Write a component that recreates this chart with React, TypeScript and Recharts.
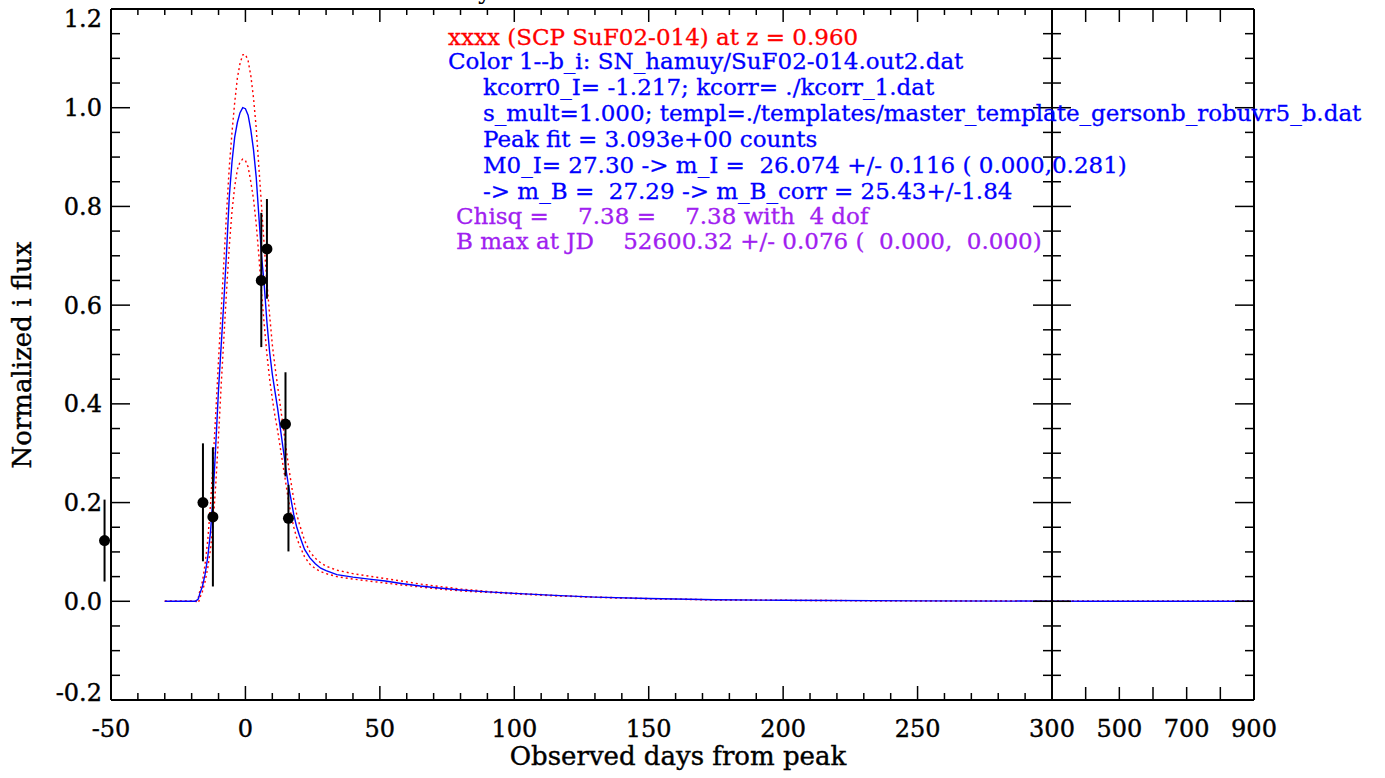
import React from 'react';
import { ComposedChart, Line, XAxis, YAxis, ReferenceDot, ReferenceLine } from 'recharts';

const W = 1385;
const H = 778;
const FONT = '"DejaVu Serif", "Liberation Serif", serif';

// ---- template fit curves (left panel, days from peak) ----
const CURVE_DAYS = [-30, -18.5, -17.5, -17, -16, -15, -14, -13, -12, -11, -10, -9, -8, -7, -6, -5, -4, -3, -2, -1, 0, 1, 2, 3, 4, 5, 6, 7, 8, 9, 10, 11, 12, 13, 14, 15, 16, 17, 18, 19, 20, 22, 24, 26, 28, 30, 34, 40, 46, 52, 58, 65, 72, 80, 90, 100, 115, 130, 150, 175, 200, 250, 300];
const BLUE_FIT = [0, 0, 0.005, 0.015, 0.03, 0.055, 0.09, 0.14, 0.215, 0.32, 0.43, 0.52, 0.61, 0.71, 0.82, 0.89, 0.94, 0.97, 0.99, 1.0, 0.998, 0.985, 0.955, 0.915, 0.86, 0.78, 0.7, 0.64, 0.565, 0.505, 0.46, 0.425, 0.39, 0.35, 0.31, 0.27, 0.235, 0.205, 0.175, 0.152, 0.135, 0.105, 0.088, 0.076, 0.067, 0.062, 0.054, 0.049, 0.045, 0.041, 0.036, 0.031, 0.027, 0.023, 0.019, 0.016, 0.012, 0.0085, 0.0055, 0.003, 0.002, 0.0008, 0.0003];
const RED_UPPER = [0, 0, 0.008, 0.02, 0.04, 0.075, 0.125, 0.195, 0.285, 0.385, 0.49, 0.59, 0.69, 0.79, 0.88, 0.95, 1.01, 1.06, 1.09, 1.107, 1.108, 1.095, 1.065, 1.02, 0.96, 0.88, 0.8, 0.72, 0.645, 0.58, 0.52, 0.475, 0.435, 0.395, 0.355, 0.315, 0.275, 0.24, 0.205, 0.178, 0.158, 0.123, 0.1, 0.087, 0.078, 0.071, 0.063, 0.056, 0.051, 0.046, 0.041, 0.035, 0.03, 0.025, 0.02, 0.0165, 0.012, 0.0085, 0.0055, 0.003, 0.002, 0.0008, 0.0003];
const RED_LOWER = [0, 0, -0.003, 0.006, 0.02, 0.04, 0.068, 0.105, 0.16, 0.24, 0.335, 0.44, 0.535, 0.63, 0.72, 0.79, 0.84, 0.875, 0.89, 0.896, 0.893, 0.88, 0.85, 0.815, 0.765, 0.7, 0.625, 0.56, 0.5, 0.45, 0.41, 0.375, 0.345, 0.31, 0.275, 0.24, 0.205, 0.175, 0.15, 0.13, 0.115, 0.09, 0.075, 0.066, 0.06, 0.056, 0.05, 0.045, 0.041, 0.037, 0.033, 0.029, 0.025, 0.021, 0.018, 0.015, 0.011, 0.008, 0.005, 0.0028, 0.0018, 0.0007, 0.0003];

// ---- right panel (late times) ----
const RIGHT_DAYS = [300, 400, 500, 600, 700, 800, 900];
const RIGHT_BLUE = [0.0003, 0.0001, 0, 0, 0, 0, 0];
const RIGHT_UPPER = [0.0003, 0.0001, 0, 0, 0, 0, 0];
const RIGHT_LOWER = [0.0003, 0.0001, 0, 0, 0, 0, 0];

// ---- observations ----
const OBS_DAYS = [-52.4, -15.8, -12.1, 5.9, 8.0, 14.9, 16.0];
const OBS_FLUX = [0.123, 0.2, 0.171, 0.65, 0.714, 0.359, 0.168];
const OBS_LOW = [0.04, 0.081, 0.03, 0.515, 0.613, 0.253, 0.101];
const OBS_HIGH = [0.206, 0.32, 0.312, 0.787, 0.815, 0.464, 0.236];

// ---- ticks ----
const X_TICKS_LEFT = [-50, -40, -30, -20, -10, 0, 10, 20, 30, 40, 50, 60, 70, 80, 90, 100, 110, 120, 130, 140, 150, 160, 170, 180, 190, 200, 210, 220, 230, 240, 250, 260, 270, 280, 290, 300];
const X_LABELS_LEFT = [-50, 0, 50, 100, 150, 200, 250, 300];
const X_TICKS_RIGHT = [300, 400, 500, 600, 700, 800, 900];
// 300 is shared with the left panel and labelled there
const X_LABELS_RIGHT = [500, 700, 900];
const Y_TICKS = [-0.2, -0.15, -0.1, -0.05, 0, 0.05, 0.1, 0.15, 0.2, 0.25, 0.3, 0.35, 0.4, 0.45, 0.5, 0.55, 0.6, 0.65, 0.7, 0.75, 0.8, 0.85, 0.9, 0.95, 1.0, 1.05, 1.1, 1.15, 1.2];
const Y_LABELS = [-0.2, 0, 0.2, 0.4, 0.6, 0.8, 1.0, 1.2];

// ---- annotation text ----
const TITLE_LINE = 'xxxx (SCP SuF02-014) at z = 0.960';
const BLUE_LINES = [
  'Color 1--b_i: SN_hamuy/SuF02-014.out2.dat',
  'kcorr0_I= -1.217; kcorr= ./kcorr_1.dat',
  's_mult=1.000; templ=./templates/master_template_gersonb_robuvr5_b.dat',
  'Peak fit = 3.093e+00 counts',
  'M0_I= 27.30 -> m_I =  26.074 +/- 0.116 ( 0.000,0.281)',
  '-> m_B =  27.29 -> m_B_corr = 25.43+/-1.84',
];
const PURPLE_LINES = [
  'Chisq =    7.38 =    7.38 with  4 dof',
  'B max at JD    52600.32 +/- 0.076 (  0.000,  0.000)',
];

const RED = '#ff0000';
const BLUE = '#0000ff';
const PURPLE = '#a020f0';
const AXIS = { stroke: '#000', strokeWidth: 2 };
const TICK = { stroke: '#000', strokeWidth: 1.5 };

const near = (a: number, list: number[]) => list.some((b) => Math.abs(a - b) < 1e-6);
const isMajorY = (v: number) => near(v, Y_LABELS);

const labelStyle: any = { fontFamily: FONT, fontSize: 24, fill: '#000', stroke: '#000', strokeWidth: 0.4 };

const bottomTick = (labels: number[], majorTicks: number[] | null, majorLen: number, minorLen: number) => (p: any) => {
  const { x, y, payload } = p;
  const v = payload.value;
  const major = majorTicks ? near(v, majorTicks) : true;
  const len = major ? majorLen : minorLen;
  return (
    <g>
      <line x1={x} x2={x} y1={y} y2={y - len} {...TICK} />
      {near(v, labels) && (
        <text x={x} y={y + 37} textAnchor="middle" style={labelStyle}>{String(v)}</text>
      )}
    </g>
  );
};

const topTick = (majorTicks: number[] | null, majorLen: number, minorLen: number) => (p: any) => {
  const { x, y, payload } = p;
  const major = majorTicks ? near(payload.value, majorTicks) : true;
  return <line x1={x} x2={x} y1={y} y2={y + (major ? majorLen : minorLen)} {...TICK} />;
};

const leftTick = (withLabels: boolean) => (p: any) => {
  const { x, y, payload } = p;
  const v = payload.value;
  const major = isMajorY(v);
  const ly = Math.max(18, Math.min(692, y));
  return (
    <g>
      <line x1={x} x2={x + (major ? 19 : 9)} y1={y} y2={y} {...TICK} />
      {withLabels && major && (
        <text x={x - 9} y={ly + 8.5} textAnchor="end" style={labelStyle}>{v.toFixed(1)}</text>
      )}
    </g>
  );
};

const rightTick = (p: any) => {
  const { x, y, payload } = p;
  const major = isMajorY(payload.value);
  return <line x1={x} x2={x - (major ? 19 : 9)} y1={y} y2={y} {...TICK} />;
};

const commonX: any = { type: 'number', dataKey: 'day', allowDataOverflow: true, interval: 0, height: 1, tickSize: 0, tickMargin: 0, tickLine: false, axisLine: AXIS };
const commonY: any = { type: 'number', domain: [-0.2, 1.2], allowDataOverflow: true, ticks: Y_TICKS, interval: 0, width: 1, tickSize: 0, tickMargin: 0, tickLine: false, axisLine: AXIS };

// plot frame: left panel x 111..1052, right panel x 1052..1254, y 9..700 (axes take 1px each)
const LEFT_MARGIN = { top: 8, left: 110, right: W - 1052 - 1, bottom: H - 700 - 1 };
const RIGHT_MARGIN = { top: 8, left: 1051, right: W - 1254 - 1, bottom: H - 700 - 1 };

export default function App() {
  const leftData = CURVE_DAYS.map((d, i) => ({ day: d, blue: BLUE_FIT[i], up: RED_UPPER[i], lo: RED_LOWER[i] }));
  const rightData = RIGHT_DAYS.map((d, i) => ({ day: d, blue: RIGHT_BLUE[i], up: RIGHT_UPPER[i], lo: RIGHT_LOWER[i] }));
  const annot: any = { fontFamily: FONT, fontSize: 23, whiteSpace: 'pre', strokeWidth: 0.3 };

  return (
    <div style={{ position: 'absolute', left: 0, top: 0, width: W, height: H, background: '#fff', overflow: 'hidden' }}>
      <div style={{ position: 'absolute', left: 0, top: 0 }}>
        <ComposedChart width={W} height={H} data={leftData} margin={LEFT_MARGIN}>
          <XAxis {...commonX} xAxisId="b" orientation="bottom" domain={[-50, 300]} ticks={X_TICKS_LEFT} tick={bottomTick(X_LABELS_LEFT, X_LABELS_LEFT, 14, 7)} />
          <XAxis {...commonX} xAxisId="t" orientation="top" domain={[-50, 300]} ticks={X_TICKS_LEFT} tick={topTick(X_LABELS_LEFT, 13, 6)} />
          <YAxis {...commonY} yAxisId="l" orientation="left" tick={leftTick(true)} />
          <YAxis {...commonY} yAxisId="r" orientation="right" tick={rightTick} />
          <Line xAxisId="b" yAxisId="l" type="linear" dataKey="up" stroke={RED} strokeWidth={1.4} strokeDasharray="2 3" dot={false} isAnimationActive={false} />
          <Line xAxisId="b" yAxisId="l" type="linear" dataKey="lo" stroke={RED} strokeWidth={1.4} strokeDasharray="2 3" dot={false} isAnimationActive={false} />
          <Line xAxisId="b" yAxisId="l" type="linear" dataKey="blue" stroke={BLUE} strokeWidth={1.4} dot={false} isAnimationActive={false} />
          {OBS_DAYS.map((d, i) => (
            <ReferenceLine key={'e' + i} xAxisId="b" yAxisId="l" segment={[{ x: d, y: OBS_LOW[i] }, { x: d, y: OBS_HIGH[i] }]} stroke="#000" strokeWidth={2} ifOverflow="visible" />
          ))}
          {OBS_DAYS.map((d, i) => (
            <ReferenceDot key={'p' + i} xAxisId="b" yAxisId="l" x={d} y={OBS_FLUX[i]} r={5.5} fill="#000" stroke="none" ifOverflow="visible" />
          ))}
        </ComposedChart>
      </div>
      <div style={{ position: 'absolute', left: 0, top: 0 }}>
        <ComposedChart width={W} height={H} data={rightData} margin={RIGHT_MARGIN}>
          <XAxis {...commonX} xAxisId="b" orientation="bottom" domain={[300, 900]} ticks={X_TICKS_RIGHT} tick={bottomTick(X_LABELS_RIGHT, null, 13, 13)} />
          <XAxis {...commonX} xAxisId="t" orientation="top" domain={[300, 900]} ticks={X_TICKS_RIGHT} tick={topTick(null, 13, 13)} />
          <YAxis {...commonY} yAxisId="l" orientation="left" tick={leftTick(false)} />
          <YAxis {...commonY} yAxisId="r" orientation="right" tick={rightTick} />
          <Line xAxisId="b" yAxisId="l" type="linear" dataKey="up" stroke={RED} strokeWidth={1.4} strokeDasharray="2 3" dot={false} isAnimationActive={false} />
          <Line xAxisId="b" yAxisId="l" type="linear" dataKey="lo" stroke={RED} strokeWidth={1.4} strokeDasharray="2 3" dot={false} isAnimationActive={false} />
          <Line xAxisId="b" yAxisId="l" type="linear" dataKey="blue" stroke={BLUE} strokeWidth={1.4} dot={false} isAnimationActive={false} />
        </ComposedChart>
      </div>
      <svg width={W} height={H} style={{ position: 'absolute', left: 0, top: 0, pointerEvents: 'none' }}>
        <text x={478} y={-1} style={{ fontFamily: FONT, fontSize: 24, fill: '#000' }}>y</text>
        <g>
          <text x={448} y={45} fill={RED} stroke={RED} style={annot}>{TITLE_LINE}</text>
          <text x={448} y={69} fill={BLUE} stroke={BLUE} style={annot}>{BLUE_LINES[0]}</text>
          {BLUE_LINES.slice(1).map((t, i) => (
            <text key={i} x={483} y={95 + i * 26} fill={BLUE} stroke={BLUE} style={annot}>{t}</text>
          ))}
          {PURPLE_LINES.map((t, i) => (
            <text key={'pp' + i} x={456} y={224 + i * 25} fill={PURPLE} stroke={PURPLE} style={annot}>{t}</text>
          ))}
        </g>
        <text x={678} y={765} textAnchor="middle" style={{ fontFamily: FONT, fontSize: 26, fill: '#000', stroke: '#000', strokeWidth: 0.4 }}>Observed days from peak</text>
        <text x={31} y={355} textAnchor="middle" transform="rotate(-90 31 355)" style={{ fontFamily: FONT, fontSize: 26, fill: '#000', stroke: '#000', strokeWidth: 0.4 }}>Normalized i flux</text>
      </svg>
    </div>
  );
}
